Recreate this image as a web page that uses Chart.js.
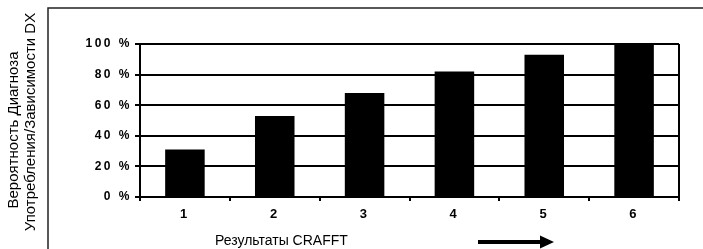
<!DOCTYPE html>
<html><head><meta charset="utf-8">
<script src="https://cdn.jsdelivr.net/npm/chart.js@4"></script>
<style>html,body{margin:0;padding:0;background:#fff}#wrap{width:703px;height:249px}</style>
</head><body><div id="wrap"><canvas id="c" width="703" height="249"></canvas></div>
<script>
const categories = ['1','2','3','4','5','6'];
const probability = [31, 53, 68, 82, 93, 100];
const yTicks = [0, 20, 40, 60, 80, 100];
const yTitle = ['Вероятность Диагноза', 'Употребления/Зависимости DX'];
const xTitle = 'Результаты CRAFFT';

const decor = {
  id: 'decor',
  beforeDraw(chart) { chart.ctx.letterSpacing = '2.5px'; },
  afterDraw(chart) {
    const ctx = chart.ctx, a = chart.chartArea;
    ctx.save();
    ctx.letterSpacing = '0px';
    // outer frame
    ctx.strokeStyle = '#222'; ctx.lineWidth = 1.5;
    ctx.beginPath(); ctx.moveTo(48, 249); ctx.lineTo(48, 8); ctx.lineTo(703, 8); ctx.stroke();
    // right border of plot
    ctx.strokeStyle = '#000'; ctx.lineWidth = 2;
    ctx.beginPath(); ctx.moveTo(a.right, a.top); ctx.lineTo(a.right, a.bottom); ctx.stroke();
    // y title
    ctx.fillStyle = '#000';
    ctx.font = '15px "Liberation Sans", Arial, sans-serif';
    ctx.textAlign = 'center'; ctx.textBaseline = 'middle';
    ctx.save(); ctx.translate(14, 130); ctx.rotate(-Math.PI/2); ctx.fillText(yTitle[0], 0, 0); ctx.restore();
    ctx.save(); ctx.translate(31, 122); ctx.rotate(-Math.PI/2); ctx.fillText(yTitle[1], 0, 0); ctx.restore();
    // x title
    ctx.font = '14px "Liberation Sans", Arial, sans-serif';
    ctx.textAlign = 'left';
    ctx.fillText(xTitle, 215, 241);
    // arrow
    ctx.lineWidth = 4;
    ctx.beginPath(); ctx.moveTo(478, 242); ctx.lineTo(542, 242); ctx.stroke();
    ctx.beginPath(); ctx.moveTo(554, 242); ctx.lineTo(540, 235.5); ctx.lineTo(540, 248.5); ctx.closePath(); ctx.fill();
    ctx.restore();
  }
};

new Chart(document.getElementById('c'), {
  type: 'bar',
  data: { labels: categories, datasets: [{ data: probability, backgroundColor: '#000', borderWidth: 0, barPercentage: 0.44, categoryPercentage: 1 }] },
  options: {
    responsive: false, animation: false, devicePixelRatio: 1,
    layout: { padding: { top: 44, right: 24, left: 0, bottom: 0 } },
    plugins: { legend: { display: false }, tooltip: { enabled: false } },
    scales: {
      y: {
        min: 0, max: 100,
        afterFit(s) { s.width = 140; },
        afterBuildTicks(s) { s.ticks = yTicks.map(v => ({ value: v })); },
        ticks: { callback: v => v + ' %', color: '#000', font: { family: '"Liberation Sans", Arial, sans-serif', size: 12, weight: 'bold' }, padding: 3 },
        grid: { color: '#000', lineWidth: 2, tickLength: 5, drawTicks: true },
        border: { display: true, color: '#000', width: 2 }
      },
      x: {
        afterFit(s) { s.height = 52; },
        ticks: { color: '#000', font: { family: '"Liberation Sans", Arial, sans-serif', size: 13, weight: 'bold' }, padding: 6 },
        grid: { offset: true, drawOnChartArea: false, color: '#000', lineWidth: 2, tickLength: 4 },
        border: { display: true, color: '#000', width: 2 }
      }
    }
  },
  plugins: [decor]
});
</script></body></html>
